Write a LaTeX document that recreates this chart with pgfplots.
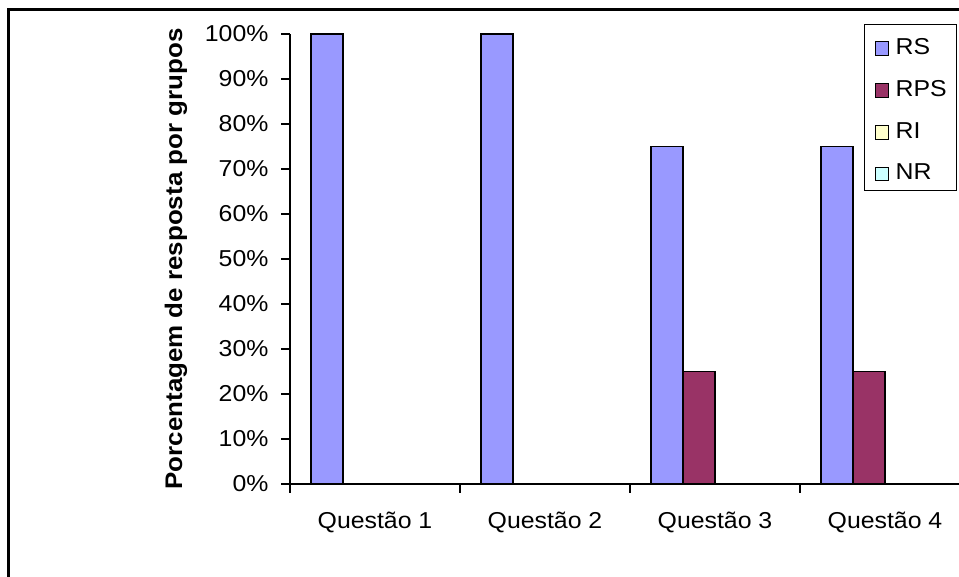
\documentclass[border=0pt]{standalone}
\usepackage{graphicx}
\usepackage{pgfplots}
\pgfplotsset{compat=1.18}
\usepackage{fontspec}
\setmainfont{Liberation Sans}
\definecolor{rs}{HTML}{9999FF}
\definecolor{rps}{HTML}{993366}
\definecolor{ri}{HTML}{FFFFCC}
\definecolor{nr}{HTML}{CCFFFF}
\newcommand{\sx}[1]{\scalebox{1.08}[1]{#1}}
\begin{document}
\begin{tikzpicture}
\useasboundingbox (0pt,0pt) rectangle (959pt,577pt);
\clip (0pt,0pt) rectangle (959pt,577pt);
\fill[white] (0pt,0pt) rectangle (959pt,577pt);
\draw[line width=3pt] (8pt,-5pt) -- (8pt,567pt) -- (965pt,567pt);
\begin{axis}[
  at={(290pt,93pt)}, anchor=south west,
  scale only axis, width=680pt, height=450pt,
  xmin=-0.5, xmax=3.5, ymin=0, ymax=100,
  ybar=0pt, bar width=32pt,
  axis lines*=left,
  axis line style={line width=1.5pt},
  tick align=outside,
  major tick length=9pt, minor tick length=9pt,
  tick style={black, line width=1.2pt},
  ytick={0,10,...,100},
  yticklabels={\sx{0\%},\sx{10\%},\sx{20\%},\sx{30\%},\sx{40\%},\sx{50\%},\sx{60\%},\sx{70\%},\sx{80\%},\sx{90\%},\sx{100\%}},
  xtick={0,1,2,3},
  xticklabels={\sx{Questão 1},\sx{Questão 2},\sx{Questão 3},\sx{Questão 4}},
  major x tick style={draw=none},
  minor xtick={-0.5,0.5,1.5,2.5,3.5},
  ticklabel style={font=\fontsize{23}{27}\selectfont},
  yticklabel style={xshift=-9pt},
  xticklabel style={yshift=-15pt},
  ylabel={\scalebox{1.08}[1]{Porcentagem de resposta por grupos}},
  every axis y label/.style={at={(axis description cs:-0.1676,0.5)}, rotate=90, anchor=center, font=\fontsize{24}{28}\selectfont\bfseries},
  legend style={at={(axis description cs:0.844,1.022)}, anchor=north west,
    draw=black, line width=1.2pt, font=\fontsize{23}{27}\selectfont,
    nodes={inner sep=0pt},
    row sep=20pt, inner xsep=10pt, inner ysep=9pt,
    /tikz/every odd column/.append style={column sep=6.5pt}},
  legend cell align=left,
  legend image code/.code={\path (0pt,12.6pt); \draw[#1, line width=0.9pt] (0pt,-8.2pt) rectangle (13.5pt,5.3pt);},
  clip=false,
]
\addplot[fill=rs, draw=black, line width=1.2pt] coordinates {(0,100) (1,100) (2,75) (3,75)};
\addplot[fill=rps, draw=black, line width=1.2pt] coordinates {(0,0) (1,0) (2,25) (3,25)};
\addplot[fill=ri, draw=black, line width=1.2pt] coordinates {(0,0) (1,0) (2,0) (3,0)};
\addplot[fill=nr, draw=black, line width=1.2pt] coordinates {(0,0) (1,0) (2,0) (3,0)};
\legend{\sx{RS},\sx{RPS},\sx{RI},\sx{NR}}
\end{axis}
\end{tikzpicture}
\end{document}
